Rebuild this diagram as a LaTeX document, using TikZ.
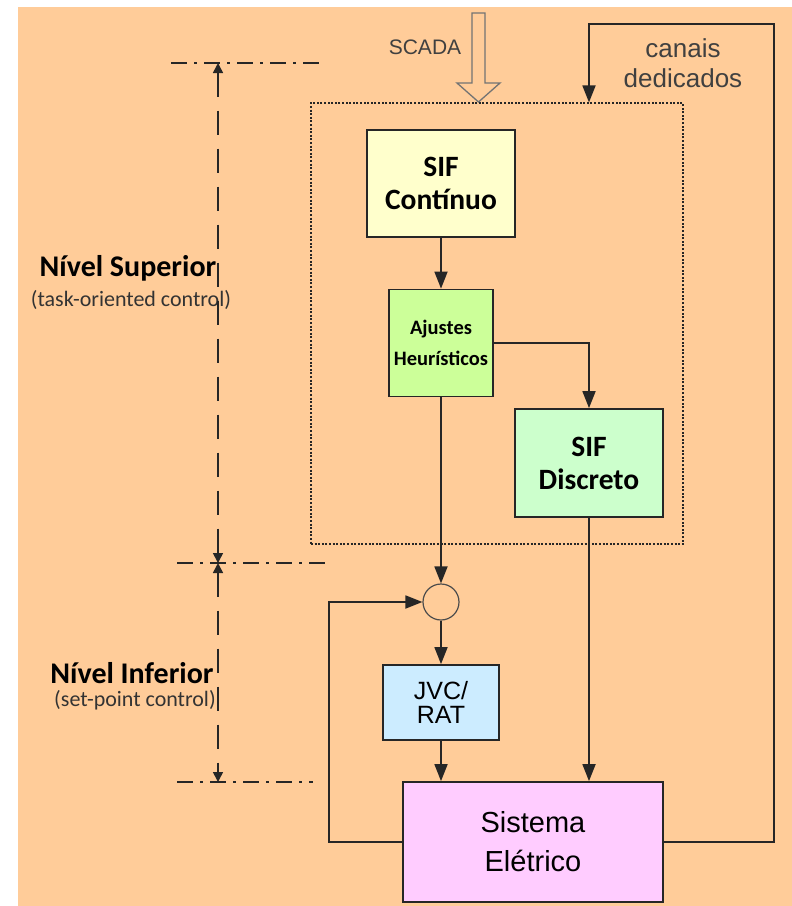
\documentclass[tikz,border=0pt]{standalone}
\usepackage{fontspec}
\setmainfont{Liberation Sans}
\newfontfamily\calib{Carlito}
\usetikzlibrary{positioning}
\usetikzlibrary{arrows.meta}
\usetikzlibrary{calc}
\definecolor{fundo}{HTML}{FFCC99}
\definecolor{amarelo}{HTML}{FFFFCC}
\definecolor{verdeclaro}{HTML}{CCFF99}
\definecolor{verdeagua}{HTML}{CCFFCC}
\definecolor{azulclaro}{HTML}{CCECFF}
\definecolor{rosa}{HTML}{FFCCFF}
\tikzset{blk/.style={draw=black!85,line width=1.8pt,align=center,inner sep=0pt}}
\tikzset{ed/.style={line width=1.8pt,draw=black!85}}
\tikzset{nivel/.style={dash pattern=on 24pt off 14pt,line width=1.6pt,draw=black!85}}
\tikzset{limite/.style={dash pattern=on 16pt off 7pt on 3pt off 7pt,line width=1.6pt,draw=black!85}}
\tikzset{>={Triangle[length=17pt,width=13pt]}}
\tikzset{cota/.tip={Triangle[length=10pt,width=10pt]}}

\begin{document}
\begin{tikzpicture}[x=1pt,y=-1pt]
        \fill[white] (0,0) rectangle (792,906);
        \fill[fundo] (18,7) rectangle (792,906);
        % upper level
        \node[draw=black!85,line width=1.2pt,dash pattern=on 2pt off 1.6pt,minimum width=372pt,minimum height=441pt] (sup) at (497,323.5) {};
        \node[blk,fill=amarelo,minimum width=148pt,minimum height=107pt,font=\calib\bfseries\fontsize{29.5}{33}\selectfont] (SC) at (441,183.5) {SIF\\Contínuo};
        \node[blk,fill=verdeclaro,minimum width=104pt,minimum height=107pt,font=\calib\bfseries\fontsize{20.5}{31}\selectfont] (AH) at (441,343) {Ajustes\\Heurísticos};
        \node[blk,fill=verdeagua,minimum width=148pt,minimum height=108pt,font=\calib\bfseries\fontsize{29.5}{33}\selectfont] (SD) at (589,463) {SIF\\Discreto};
        % lower level
        \node[circle,draw=black!70,line width=1.2pt,minimum size=36pt,inner sep=0pt] (soma) at (441,602) {};
        \node[blk,fill=azulclaro,minimum width=116pt,minimum height=75pt,font=\fontsize{25}{24}\selectfont] (JR) at (441,702.5) {JVC/\\RAT};
        \node[blk,fill=rosa,minimum width=260pt,minimum height=120pt,font=\fontsize{29}{39}\selectfont] (SE) at (533,842) {Sistema\\Elétrico};
        \node[font=\fontsize{21}{24}\selectfont,text=black!75] (scada) at (425,47) {SCADA};
        \node[align=center,font=\fontsize{26}{30}\selectfont,text=black!75] (canais) at (683,63) {canais\\dedicados};
        \coordinate (cA) at (774,24);
        % SCADA arrow
        \draw[line width=1.3pt,draw=black!55] (472,13) -- (485,13) -- (485,83) -- (500,83) -- (478.5,102) -- (457,83) -- (472,83) -- cycle;
        \draw[ed,->] (SC) -- (AH);
        \draw[ed,->] (AH.east) -| (SD);
        \draw[ed,->] (AH) -- (soma);
        \draw[ed,->] (soma) -- (JR);
        \draw[ed,->] (JR) -- (JR |- SE.north);
        \draw[ed,->] (SD) -- (SD |- SE.north);
        \draw[ed,->] (SE.west) -- ++(-73,0) |- (soma);
        \draw[ed,->] (SE.east) -| (cA) -| (SD |- sup.north);
        % levels
        \node[font=\calib\bfseries\fontsize{30}{32}\selectfont] (nsup) at (128,268) {Nível Superior};
        \node[font=\calib\fontsize{22}{24}\selectfont,text=black!80] (tsup) at (131,300) {(task-oriented control)};
        \node[font=\calib\bfseries\fontsize{30}{32}\selectfont] (ninf) at (132,673) {Nível Inferior};
        \node[font=\calib\fontsize{22}{24}\selectfont,text=black!80] (tinf) at (135,700) {(set-point control)};
        \coordinate (L1) at (218,63);
        \coordinate (L2) at (218,563);
        \coordinate (L3) at (218,782);
        \draw[limite] (171,63) -- (326,63);
        \draw[limite] (177,563) -- (330,563);
        \draw[limite] (177,782) -- (313,782);
        \draw[nivel,{cota}-{cota}] (L1) -- (L2);
        \draw[nivel,{cota}-{cota}] (L2) -- (L3);
\end{tikzpicture}
\end{document}
